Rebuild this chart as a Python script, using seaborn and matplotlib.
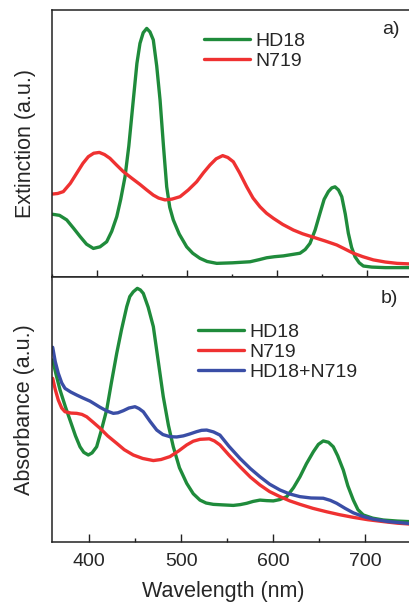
import numpy as np
import pandas as pd
import matplotlib
matplotlib.use("Agg")
import matplotlib.pyplot as plt
import seaborn as sns
from matplotlib.ticker import MultipleLocator, NullLocator

# ---- panel a: extinction spectra ----
ext_hd18_wl = [350.4, 358, 366, 374, 381, 388, 395.6, 403, 410.4, 416, 421.6, 426, 430.8, 435,
               440, 444, 447.4, 451, 454.9, 458.5, 462.2, 466, 469.7, 473.5, 477.1, 480.5, 484.4,
               491, 499.3, 506, 514, 522, 532.7, 550, 569.7, 580, 588.2, 597, 606.7, 616, 625.2,
               631, 636.3, 642, 647.4, 652, 656.7, 660.5, 664.1, 668, 671.6, 675.5, 678.9, 682.5,
               686.3, 691, 695.6, 705, 720, 746.3]
ext_hd18 = [0.234, 0.230, 0.213, 0.18, 0.15, 0.122, 0.106, 0.112, 0.131, 0.17, 0.225, 0.29, 0.375,
            0.49, 0.663, 0.80, 0.875, 0.915, 0.931, 0.918, 0.888, 0.79, 0.663, 0.49, 0.337, 0.26,
            0.213, 0.16, 0.112, 0.088, 0.069, 0.057, 0.05, 0.052, 0.056, 0.064, 0.071, 0.075,
            0.078, 0.083, 0.088, 0.102, 0.125, 0.175, 0.238, 0.29, 0.319, 0.333, 0.337, 0.325,
            0.3, 0.235, 0.163, 0.11, 0.075, 0.052, 0.04, 0.036, 0.034, 0.034]

ext_n719_wl = [350.4, 356, 362.2, 370, 377.1, 384, 390, 396, 402.2, 408, 414, 421, 428.9, 438,
               447.4, 455, 462.2, 468, 475.2, 483, 491.9, 501, 510.4, 518, 525.2, 532, 539.3,
               545, 551.1, 558, 566, 573, 580.8, 588, 595.6, 606, 617.8, 628, 640, 653, 666,
               675, 684.4, 695, 706.7, 720, 733, 746.3]
ext_n719 = [0.31, 0.312, 0.319, 0.35, 0.388, 0.425, 0.45, 0.463, 0.466, 0.458, 0.444, 0.42,
            0.394, 0.37, 0.346, 0.325, 0.306, 0.295, 0.288, 0.291, 0.3, 0.325, 0.356, 0.39,
            0.419, 0.442, 0.454, 0.447, 0.431, 0.39, 0.337, 0.295, 0.262, 0.238, 0.219, 0.196,
            0.175, 0.161, 0.148, 0.134, 0.119, 0.104, 0.088, 0.075, 0.063, 0.055, 0.05, 0.048]

# ---- panel b: absorbance spectra ----
abs_hd18_wl = [360.2, 364, 368.2, 374, 379, 385, 389.9, 394, 398.9, 403, 408, 413, 418.9, 424,
               429.8, 435, 440.7, 444, 447.8, 452.2, 455.5, 458.7, 464, 469.6, 475, 480.4, 486,
               491.3, 498, 505.9, 513, 520.3, 527, 534.8, 545, 556.5, 564, 571.1, 578, 585.5,
               593, 600, 607, 614.6, 622, 629, 636, 643.5, 649, 654.3, 660, 665.2, 670, 676.1,
               681, 687, 692, 697.8, 708, 719.6, 735, 747.5]
abs_hd18 = [0.686, 0.63, 0.573, 0.51, 0.46, 0.40, 0.359, 0.338, 0.328, 0.336, 0.359, 0.42,
            0.498, 0.60, 0.711, 0.80, 0.887, 0.925, 0.943, 0.956, 0.95, 0.937, 0.885, 0.812,
            0.68, 0.548, 0.44, 0.359, 0.28, 0.221, 0.182, 0.158, 0.147, 0.142, 0.14, 0.138,
            0.141, 0.146, 0.153, 0.158, 0.156, 0.155, 0.16, 0.171, 0.205, 0.246, 0.295, 0.34,
            0.368, 0.381, 0.376, 0.359, 0.325, 0.271, 0.212, 0.158, 0.122, 0.102, 0.09, 0.083,
            0.079, 0.077]

abs_n719_wl = [360.2, 363, 366.3, 370, 373.6, 380, 386.3, 392, 397.2, 404, 411.6, 420, 429.8,
               438, 447.8, 458, 469.6, 478, 487.7, 497, 505.9, 513, 520.3, 530.4, 536, 542, 552,
               563.8, 575, 585.5, 596, 607.3, 618, 629, 643, 658, 672, 687, 703, 719.6, 735,
               747.5]
abs_n719 = [0.617, 0.575, 0.535, 0.505, 0.491, 0.486, 0.485, 0.481, 0.472, 0.452, 0.429, 0.40,
            0.372, 0.348, 0.328, 0.315, 0.307, 0.311, 0.322, 0.343, 0.366, 0.38, 0.387, 0.389,
            0.381, 0.366, 0.327, 0.284, 0.245, 0.215, 0.19, 0.171, 0.155, 0.142, 0.127, 0.114,
            0.103, 0.093, 0.084, 0.077, 0.071, 0.068]

abs_mix_wl = [360.2, 363, 366.3, 370, 373.6, 380, 386.3, 393, 400.8, 406, 411.6, 419, 426.1,
              431, 437, 443, 449.7, 454, 458.7, 466, 473.3, 480, 487.7, 495, 502.2, 509, 516.7,
              522, 527.6, 535, 542, 552, 563.8, 575, 585.5, 596, 607.3, 618, 629, 641, 654.3,
              662, 668.9, 678, 687, 697, 708.7, 725, 747.5]
abs_mix = [0.734, 0.68, 0.636, 0.600, 0.579, 0.565, 0.554, 0.543, 0.531, 0.52, 0.508, 0.494,
           0.485, 0.487, 0.495, 0.505, 0.51, 0.503, 0.491, 0.455, 0.422, 0.405, 0.397, 0.396,
           0.4, 0.407, 0.416, 0.421, 0.422, 0.415, 0.403, 0.36, 0.315, 0.277, 0.246, 0.218,
           0.196, 0.181, 0.171, 0.166, 0.165, 0.157, 0.146, 0.127, 0.11, 0.097, 0.086, 0.077,
           0.07]

colors = {"HD18": "#1f8b3b", "N719": "#ef3131", "HD18+N719": "#3a4ea6"}


def long_frame(series):
    parts = [pd.DataFrame({"wavelength": wl, "value": val, "sample": name})
             for name, wl, val in series]
    return pd.concat(parts, ignore_index=True)


df_a = long_frame([("HD18", ext_hd18_wl, ext_hd18), ("N719", ext_n719_wl, ext_n719)])
df_b = long_frame([("HD18", abs_hd18_wl, abs_hd18), ("N719", abs_n719_wl, abs_n719),
                   ("HD18+N719", abs_mix_wl, abs_mix)])

sns.set_theme(style="ticks")
plt.rcParams["font.family"] = ["Liberation Sans", "DejaVu Sans"]
plt.rcParams["axes.linewidth"] = 1.1

fig = plt.figure(figsize=(4.09, 6.04), dpi=100)
ax_a = fig.add_axes([0.1279, 0.5419, 0.8721, 0.4415])
ax_b = fig.add_axes([0.1279, 0.1026, 0.8721, 0.4393])

lw = 2.4
sns.lineplot(data=df_a, x="wavelength", y="value", hue="sample", palette=colors,
             linewidth=lw, ax=ax_a, estimator=None, sort=True)
sns.lineplot(data=df_b, x="wavelength", y="value", hue="sample", palette=colors,
             linewidth=lw, ax=ax_b, estimator=None, sort=True)

for line in ax_a.get_lines() + ax_b.get_lines():
    line.set_solid_joinstyle("round")
    line.set_solid_capstyle("round")

# panel a
ax_a.set_xlim(350, 746.3)
ax_a.set_ylim(0, 1)
ax_a.spines["right"].set_visible(False)
ax_a.xaxis.set_major_locator(MultipleLocator(100))
ax_a.xaxis.set_minor_locator(MultipleLocator(50))
ax_a.yaxis.set_major_locator(NullLocator())
ax_a.tick_params(axis="x", which="major", direction="inout", length=10, width=1.0,
                 labelbottom=False, color="#222222")
ax_a.tick_params(axis="x", which="minor", direction="inout", length=5, width=1.0,
                 color="#222222")
ax_a.set_xlabel("")
ax_a.set_ylabel("Extinction (a.u.)", fontsize=15.5, va="center")
ax_a.yaxis.set_label_coords(-0.074, 0.5)
ax_a.text(0.925, 0.927, "a)", transform=ax_a.transAxes, fontsize=14, va="center", ha="left")
ax_a.legend(loc="upper left", bbox_to_anchor=(0.4253, 0.918), frameon=False, fontsize=14,
            borderpad=0, borderaxespad=0, handlelength=2.35, handletextpad=0.3,
            labelspacing=0.15)

# panel b
ax_b.set_xlim(359.8, 747.5)
ax_b.set_ylim(0, 1)
ax_b.spines["right"].set_visible(False)
ax_b.xaxis.set_major_locator(MultipleLocator(100))
ax_b.xaxis.set_minor_locator(MultipleLocator(50))
ax_b.yaxis.set_major_locator(NullLocator())
ax_b.tick_params(axis="x", which="major", direction="in", length=5.5, width=1.0, pad=8,
                 labelsize=14, color="#222222")
ax_b.tick_params(axis="x", which="minor", direction="in", length=3, width=1.0,
                 color="#222222")
ax_b.set_xlabel("Wavelength (nm)", fontsize=15.5)
ax_b.xaxis.set_label_coords(0.4805, -0.146)
ax_b.set_ylabel("Absorbance (a.u.)", fontsize=15.5, va="center")
ax_b.yaxis.set_label_coords(-0.077, 0.5)
ax_b.text(0.922, 0.918, "b)", transform=ax_b.transAxes, fontsize=14, va="center", ha="left")
ax_b.legend(loc="upper left", bbox_to_anchor=(0.4093, 0.823), frameon=False, fontsize=14,
            borderpad=0, borderaxespad=0, handlelength=2.35, handletextpad=0.3,
            labelspacing=0.12)

for ax in (ax_a, ax_b):
    for leg_line in ax.get_legend().get_lines():
        leg_line.set_linewidth(lw)
    for sp in ax.spines.values():
        sp.set_color("#222222")

fig.savefig("out.png", dpi=100)
